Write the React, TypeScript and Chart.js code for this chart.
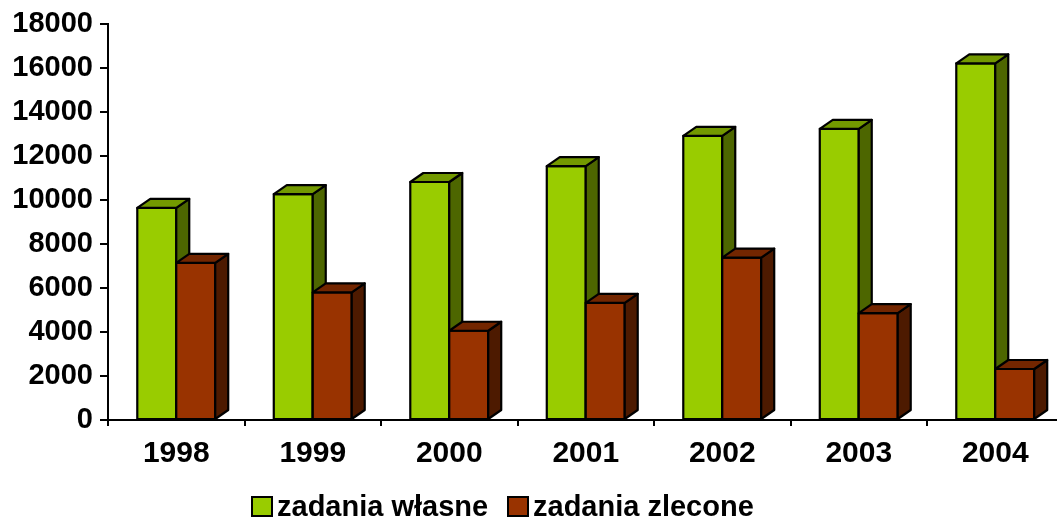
import React, { useEffect, useRef } from "react";
import { Chart, registerables } from "chart.js";

Chart.register(...registerables);

const categories = ["1998", "1999", "2000", "2001", "2002", "2003", "2004"];
const ownTasks = [9650, 10280, 10830, 11550, 12930, 13250, 16230];
const delegatedTasks = [7150, 5810, 4060, 5330, 7390, 4860, 2320];
const seriesLabels = ["zadania własne", "zadania zlecone"];
const yTicks = [0, 2000, 4000, 6000, 8000, 10000, 12000, 14000, 16000, 18000];

const FONT = "'Liberation Sans', Arial, sans-serif";
const faceColors = [
  { front: "#99CC00", top: "#739900", side: "#4D6600" },
  { front: "#993300", top: "#732600", side: "#4D1A00" },
];
const DX = 13;
const DY = -9;

const bar3d = {
  id: "bar3d",
  beforeDatasetsDraw(chart: any) {
    const ctx = chart.ctx as CanvasRenderingContext2D;
    ctx.save();
    ctx.lineWidth = 2.2;
    ctx.strokeStyle = "#000";
    ctx.lineJoin = "round";
    const nSets = chart.data.datasets.length;
    for (let i = 0; i < categories.length; i++) {
      for (let d = 0; d < nSets; d++) {
        const el = chart.getDatasetMeta(d).data[i];
        if (!el) continue;
        const { x, y, base, width } = el.getProps(["x", "y", "base", "width"], true);
        const l = x - width / 2;
        const r = x + width / 2;
        const c = faceColors[d];
        // front
        ctx.beginPath();
        ctx.rect(l, y, r - l, base - y);
        ctx.fillStyle = c.front;
        ctx.fill();
        ctx.stroke();
        // side
        ctx.beginPath();
        ctx.moveTo(r, y);
        ctx.lineTo(r + DX, y + DY);
        ctx.lineTo(r + DX, base + DY);
        ctx.lineTo(r, base);
        ctx.closePath();
        ctx.fillStyle = c.side;
        ctx.fill();
        ctx.stroke();
        // top
        ctx.beginPath();
        ctx.moveTo(l, y);
        ctx.lineTo(l + DX, y + DY);
        ctx.lineTo(r + DX, y + DY);
        ctx.lineTo(r, y);
        ctx.closePath();
        ctx.fillStyle = c.top;
        ctx.fill();
        ctx.stroke();
      }
    }
    ctx.restore();
    return false;
  },
  afterDraw(chart: any) {
    const ctx = chart.ctx as CanvasRenderingContext2D;
    ctx.save();
    ctx.font = `bold 29px ${FONT}`;
    ctx.textBaseline = "alphabetic";
    ctx.textAlign = "left";
    const starts = [252, 508];
    chart.data.datasets.forEach((ds: any, d: number) => {
      const bx = starts[d];
      ctx.fillStyle = faceColors[d].front;
      ctx.strokeStyle = "#000";
      ctx.lineWidth = 2;
      ctx.fillRect(bx, 497, 20, 19);
      ctx.strokeRect(bx, 497, 20, 19);
      ctx.fillStyle = "#000";
      ctx.fillText(ds.label, bx + 25, 516);
    });
    ctx.restore();
  },
};

export default function App() {
  const ref = useRef<HTMLCanvasElement>(null);
  useEffect(() => {
    document.body.style.margin = "0";
    const canvas = ref.current!;
    const chart = new Chart(canvas, {
      type: "bar",
      data: {
        labels: categories,
        datasets: [
          { label: seriesLabels[0], data: ownTasks, backgroundColor: faceColors[0].front },
          { label: seriesLabels[1], data: delegatedTasks, backgroundColor: faceColors[1].front },
        ],
      },
      options: {
        animation: false,
        responsive: false,
        maintainAspectRatio: false,
        layout: { padding: { top: 24, right: 6.5, left: 0, bottom: 0 } },
        datasets: { bar: { categoryPercentage: 0.571, barPercentage: 1 } },
        plugins: { legend: { display: false }, tooltip: { enabled: false } },
        scales: {
          x: {
            offset: true,
            grid: {
              offset: true,
              drawOnChartArea: false,
              drawTicks: true,
              tickLength: 6,
              color: "#000",
              lineWidth: 2,
            },
            border: { display: true, color: "#000", width: 2 },
            ticks: {
              color: "#000",
              padding: 10,
              font: { family: FONT, size: 30, weight: "bold" },
            },
            afterFit: (s: any) => {
              s.height = 97;
            },
          },
          y: {
            min: 0,
            max: 18000,
            afterBuildTicks: (s: any) => {
              s.ticks = yTicks.map((v) => ({ value: v }));
            },
            grid: {
              drawOnChartArea: false,
              drawTicks: true,
              tickLength: 8,
              color: "#000",
              lineWidth: 2,
            },
            border: { display: true, color: "#000", width: 2 },
            ticks: {
              color: "#000",
              padding: 7,
              font: { family: FONT, size: 29, weight: "bold" },
              callback: (v: any) => String(v),
            },
            afterFit: (s: any) => {
              s.width = 108;
            },
          },
        },
      },
      plugins: [bar3d],
    });
    return () => chart.destroy();
  }, []);
  return (
    <div style={{ width: 1057, height: 517, overflow: "hidden", position: "relative" }}>
      <canvas ref={ref} width={1070} height={517} style={{ display: "block", position: "absolute", left: 0, top: 0 }} />
    </div>
  );
}
